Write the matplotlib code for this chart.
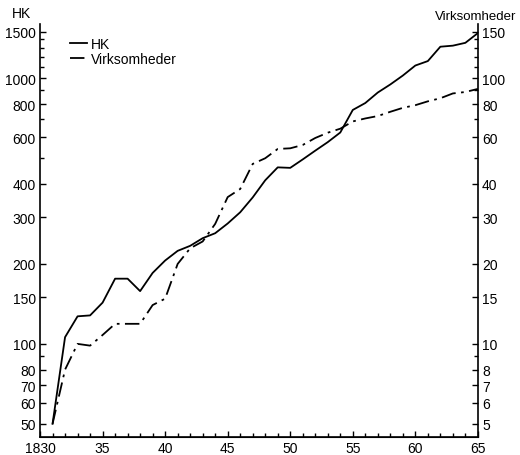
import matplotlib.pyplot as plt
from matplotlib.ticker import FixedLocator, NullFormatter

plt.rcParams['font.family'] = ['Liberation Sans', 'DejaVu Sans']

years = list(range(1831, 1866))
hk = [50, 106, 127, 128, 143, 176, 176, 158, 185, 206,
      224, 234, 250, 261, 284, 313, 356, 413, 462, 460,
      495, 534, 575, 625, 760, 807, 884, 948, 1024, 1117,
      1161, 1315, 1327, 1360, 1480]
virksomheder = [5.0, 8.0, 10.0, 9.85, 10.8, 11.9, 11.9, 11.9, 14.0, 14.8,
                20.0, 22.9, 24.3, 28.3, 35.7, 38.3, 47.6, 50.0, 54.2, 54.5,
                56.1, 59.6, 62.4, 64.6, 68.8, 70.6, 72.1, 74.8, 77.4, 79.2,
                81.9, 84.1, 87.7, 88.8, 91.2]

hk_major = [50, 60, 70, 80, 100, 150, 200, 300, 400, 600, 800, 1000, 1500]
hk_minor = [90, 500, 700, 900, 1100, 1200, 1300, 1400]
x_major = [1830, 1835, 1840, 1845, 1850, 1855, 1860, 1865]
x_labels = ['1830', '35', '40', '45', '50', '55', '60', '65']

fig = plt.figure(figsize=(5.2, 4.56), dpi=100)
ax = fig.add_axes([0.077, 0.04, 0.842, 0.905])
ax2 = ax.twinx()

l1, = ax.plot(years, hk, color='black', lw=1.3, label='HK')
l2, = ax2.plot(years, virksomheder, color='black', lw=1.3,
               linestyle=(0, (8, 3, 1.5, 3)), label='Virksomheder')

ylo, yhi = 44.7, 1600
ax.set_yscale('log')
ax2.set_yscale('log')
ax.set_ylim(ylo, yhi)
ax2.set_ylim(ylo / 10, yhi / 10)
ax.set_xlim(1830, 1865)

ax.yaxis.set_major_locator(FixedLocator(hk_major))
ax.yaxis.set_minor_locator(FixedLocator(hk_minor))
ax.set_yticklabels([str(v) for v in hk_major])
ax.yaxis.set_minor_formatter(NullFormatter())

v_major = [v / 10 for v in hk_major]
ax2.yaxis.set_major_locator(FixedLocator(v_major))
ax2.yaxis.set_minor_locator(FixedLocator([v / 10 for v in hk_minor]))
ax2.set_yticklabels([str(int(v)) for v in v_major])
ax2.yaxis.set_minor_formatter(NullFormatter())

ax.xaxis.set_major_locator(FixedLocator(x_major))
ax.xaxis.set_minor_locator(FixedLocator(list(range(1830, 1866))))
ax.set_xticklabels(x_labels)

for a in (ax, ax2):
    a.spines['top'].set_visible(False)
    a.tick_params(which='both', direction='in', labelsize=10, pad=3)
    a.tick_params(which='major', length=4, width=1)
    a.tick_params(which='minor', length=3, width=1)
ax.spines['right'].set_visible(False)
ax2.spines['left'].set_visible(False)
for s in ('left', 'bottom'):
    ax.spines[s].set_linewidth(1.2)
ax2.spines['right'].set_linewidth(1.2)

fig.text(0.023, 0.97, 'HK', fontsize=10, ha='left', va='center')
fig.text(0.993, 0.962, 'Virksomheder', fontsize=9.5, ha='right', va='center')

ax.legend([l1, l2], ['HK', 'Virksomheder'], loc='upper left',
          bbox_to_anchor=(0.04, 1.0), frameon=False, fontsize=10,
          handlelength=1.2, handletextpad=0.3, labelspacing=0.1)

fig.savefig('out.png', dpi=100)
